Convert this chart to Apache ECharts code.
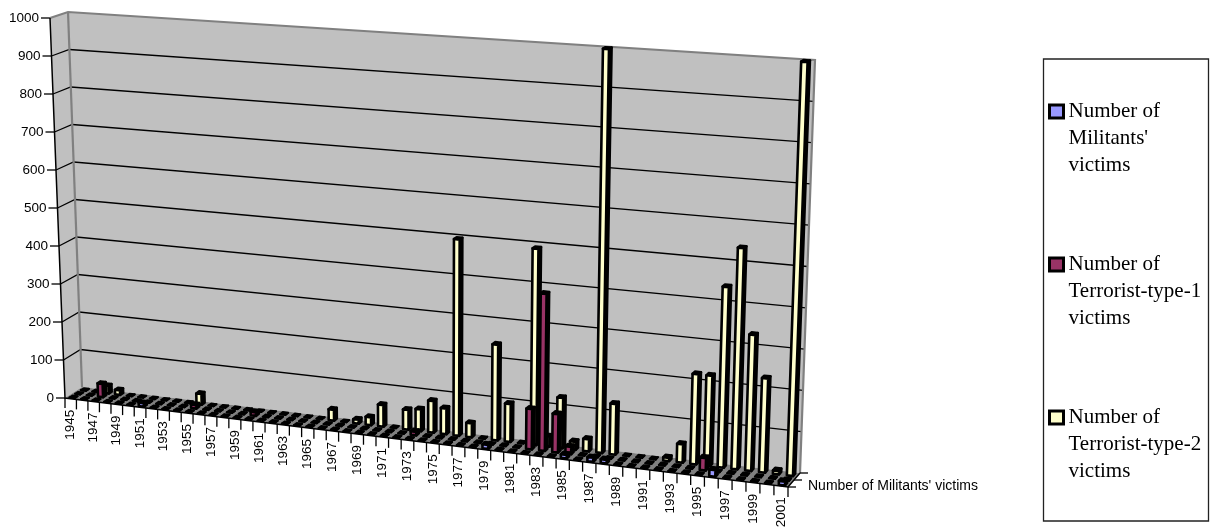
<!DOCTYPE html>
<html>
<head>
<meta charset="utf-8">
<style>html,body{margin:0;padding:0;background:#fff}#c{width:1213px;height:527px}</style>
<script src="https://cdn.jsdelivr.net/npm/echarts@6/dist/echarts.min.js"></script>
</head>
<body>
<div id="c"></div>
<script>
const years = [];
for (let y = 1945; y <= 2001; y++) years.push(String(y));
const yTicks = [0,100,200,300,400,500,600,700,800,900,1000];
const seriesAxisName = "Number of Militants' victims";
//                  1945                          1955                          1965                          1975                          1985                          1995                       2001
const militants = [0,0,0,0,0,0,9,0,0,0, 0,0,0,0,0,0,0,0,0,0, 0,0,0,0,0,0,0,0,0,0, 0,0,0,0,10,0,0,0,0,0, 9,0,10,9,0,0,0,0,0,0, 0,16,0,0,0,0,9];
const terror1   = [0,0,35,0,0,0,0,0,0,0, 9,0,0,0,0,9,0,0,0,0, 0,0,0,0,0,0,0,0,9,0, 0,0,0,0,0,0,0,100,390,95, 18,0,0,0,0,0,0,0,0,0, 30,0,0,0,0,0,0];
const terror2   = [0,0,20,12,0,0,0,0,0,0, 28,0,0,0,0,0,0,0,0,0, 0,28,0,10,20,55,0,50,55,80, 65,495,35,0,240,95,0,490,25,125, 20,30,1000,125,0,0,0,8,45,220, 220,440,538,330,228,8,1000];

const NAMES = ["Number of Militants' victims","Number of Terrorist-type-1 victims","Number of Terrorist-type-2 victims"];
const COLORS = ['#9999FF','#993366','#FFFFCC'];
const DEPTH = [1/6,1/2,5/6];

// oblique view of the chart box: screen corners of the unit cube
const VIEW = {FL:[65,398],FR:[788,487],BL:[82,387],BR:[800,473],FT:[50,18],FTR:[802,69],BT:[68,12],BTR:[815,60]};
const lerp=(a,b,t)=>[a[0]+(b[0]-a[0])*t,a[1]+(b[1]-a[1])*t];
const warp=s=>0.9*s/(1-0.1*s);
function P(s,d,v){
  const w=warp(s);
  const base=lerp(lerp(VIEW.FL,VIEW.FR,w),lerp(VIEW.BL,VIEW.BR,w),d);
  const top=lerp(lerp(VIEW.FT,VIEW.FTR,w),lerp(VIEW.BT,VIEW.BTR,w),d);
  return lerp(base,top,v);
}
const poly=(pts,fill,stroke,lw)=>({type:'polygon',shape:{points:pts},style:{fill:fill,stroke:stroke||null,lineWidth:lw||0,lineJoin:'round'},silent:true});
const line=(pts,stroke,lw)=>({type:'polyline',shape:{points:pts},style:{fill:null,stroke:stroke,lineWidth:lw},silent:true});
const AXFONT='13.5px "Liberation Sans"';

function renderFrame(params,api){
  const cs=params.coordSys, ch=[];
  const nv=val=>(cs.y+cs.height-api.coord([0,val])[1])/cs.height;
  const ss=k=>(api.coord([k,0])[0]-cs.x)/cs.width;
  const cw=api.size([1,0])[0]/cs.width;
  ch.push(poly([P(0,0,0),P(0,1,0),P(0,1,1),P(0,0,1)],'#C0C0C0'));
  ch.push(poly([P(0,1,0),P(1,1,0),P(1,1,1),P(0,1,1)],'#C0C0C0'));
  ch.push(poly([P(0,0,0),P(1,0,0),P(1,1,0),P(0,1,0)],'#808080'));
  yTicks.forEach(t=>{
    const v=nv(t);
    if(t>0 && t<1000) ch.push(line([P(0,0,v),P(0,1,v),P(1,1,v)],'#000',1.3));
    const a=P(0,0,v);
    ch.push(line([[a[0]-9,a[1]],a],'#000',1.3));
    ch.push({type:'text',x:a[0]-11,y:a[1],silent:true,style:{text:String(t),font:AXFONT,fill:'#000',align:'right',verticalAlign:'middle'}});
  });
  ch.push(line([P(0,0,1),P(0,1,1),P(1,1,1),P(1,1,0)],'#808080',2.2));
  ch.push(line([P(0,1,0),P(0,1,1)],'#808080',2.2));
  ch.push(line([P(0,0,1),P(0,0,0),P(1,0,0),P(1,1,0)],'#000',1.5));
  years.forEach((y,k)=>{
    const s=ss(k), a=P(s-cw/2,0,0);
    ch.push(line([a,[a[0],a[1]+10]],'#000',1.3));
    if(k%2===0){
      const c=P(s,0,0);
      ch.push({type:'text',x:c[0],y:c[1]+11,rotation:Math.PI/2,silent:true,style:{text:y,font:AXFONT,fill:'#000',align:'right',verticalAlign:'middle'}});
    }
  });
  const e=P(ss(56)+cw/2,0,0);
  ch.push(line([e,[e[0],e[1]+10]],'#000',1.3));
  [0,1/2,1].forEach(d=>{
    const b=P(1,d,0);
    ch.push(line([b,[b[0]+8,b[1]]],'#000',1.3));
  });
  const f=P(1,0,0);
  ch.push({type:'text',x:f[0]+20,y:f[1]-1,silent:true,style:{text:seriesAxisName,font:'14px "Liberation Sans"',fill:'#000',align:'left',verticalAlign:'middle'}});
  return {type:'group',children:ch,silent:true};
}

function barRenderer(idx){
  return function(params,api){
    const cs=params.coordSys, k=api.value(0), val=api.value(1);
    const c=api.coord([k,val]);
    const s=(c[0]-cs.x)/cs.width, v=(cs.y+cs.height-c[1])/cs.height;
    const hw=api.size([1,0])[0]*0.22/cs.width, dw=0.09, d=DEPTH[idx];
    const lw=val>0?2.6:2;
    const fl0=P(s-hw,d-dw,0),fr0=P(s+hw,d-dw,0),br0=P(s+hw,d+dw,0),bl0=P(s-hw,d+dw,0);
    const fl1=P(s-hw,d-dw,v),fr1=P(s+hw,d-dw,v),br1=P(s+hw,d+dw,v),bl1=P(s-hw,d+dw,v);
    return {type:'group',silent:true,children:[
      poly([fr0,br0,br1,fr1],'#000','#000',lw),
      poly([fl1,fr1,br1,bl1],'#000','#000',lw),
      poly([fl0,fr0,fr1,fl1],COLORS[idx],'#000',lw)
    ]};
  };
}
const barSeries=(idx,vals)=>({
  name:NAMES[idx],type:'custom',coordinateSystem:'cartesian2d',silent:true,clip:false,
  encode:{x:0,y:1},itemStyle:{color:COLORS[idx]},renderItem:barRenderer(idx),animation:false,
  data:vals.map((v,i)=>[i,v])
});

const chart=echarts.init(document.getElementById('c'),null,{renderer:'canvas'});
chart.setOption({
  animation:false,
  backgroundColor:'#fff',
  grid:{left:65,top:18,width:724,height:380,containLabel:false},
  xAxis:{type:'category',data:years,show:false,boundaryGap:true},
  yAxis:{type:'value',min:0,max:1000,interval:100,show:false},
  legend:{
    orient:'vertical',left:1048,top:44,padding:0,itemGap:18,itemWidth:14,itemHeight:13,
    selectedMode:false,icon:'rect',
    data:NAMES.map((n,i)=>({name:n,icon:'rect',itemStyle:{color:COLORS[i],borderColor:'#000',borderWidth:3}})),
    formatter:n=>'\n\n'+n.replace("Number of ","Number of\n").replace("Militants' ","Militants'\n").replace(/(type-\d) /,"$1\n"),
    textStyle:{fontFamily:'"Liberation Serif"',fontSize:21,lineHeight:27,color:'#000'}
  },
  graphic:[{type:'rect',shape:{x:1043.5,y:59,width:165,height:462},style:{fill:null,stroke:'#222',lineWidth:1.3},silent:true}],
  series:[
    {type:'custom',name:'frame',coordinateSystem:'cartesian2d',silent:true,clip:false,encode:{x:0,y:1},renderItem:renderFrame,data:[[0,0]],animation:false},
    barSeries(2,terror2),
    barSeries(1,terror1),
    barSeries(0,militants)
  ]
});
</script>
</body>
</html>
